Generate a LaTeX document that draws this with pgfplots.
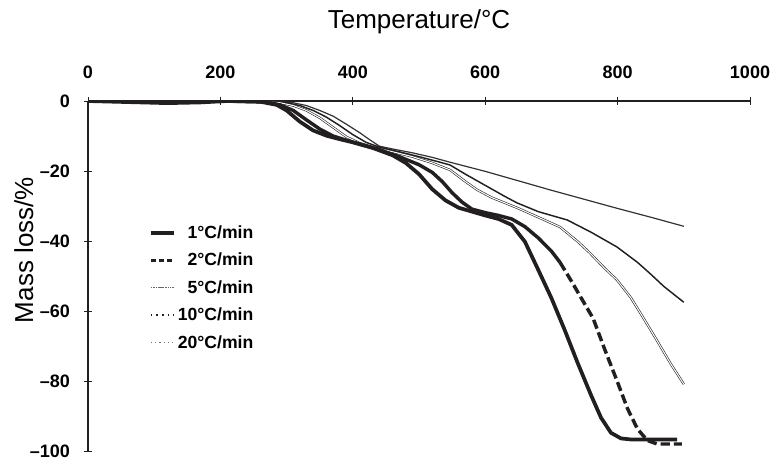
\documentclass[border=0pt]{standalone}
\usepackage{fontspec}
\setmainfont{Liberation Sans}
\usepackage{pgfplots}
\pgfplotsset{compat=1.18}

\definecolor{ink}{HTML}{231F20}

\begin{document}
\begin{tikzpicture}[font=\color{ink}]
\begin{axis}[
    scale only axis,
    width=496.5pt, height=262.5pt,
    xmin=0, xmax=1000, ymin=-100, ymax=0,
    axis x line*=top, axis y line*=left,
    axis line style={draw=ink, line width=1.1pt},
    xtick={0,200,400,600,800,1000},
    xticklabels={0,200,400,600,800,1000},
    ytick={-100,-80,-60,-40,-20,0},
    yticklabels={--100,--80,--60,--40,--20,0},
    tick style={draw=ink, line width=0.6pt},
    tick align=center, major tick length=6pt,
    ticklabel style={font=\fontsize{13.5}{15}\selectfont\bfseries},
    xticklabel style={yshift=10pt},
    yticklabel style={xshift=-7pt},
    xlabel={Temperature/°C},
    xlabel style={at={(axis description cs:0.50,1.226)}, anchor=center,
                  font=\fontsize{19.5}{22}\selectfont},
    ylabel={Mass loss/\%},
    ylabel style={at={(axis description cs:-0.097,0.574)}, anchor=center,
                  font=\fontsize{19.5}{22}\selectfont},
    legend style={draw=none, fill=none, at={(axis description cs:0.086,0.66)},
                  anchor=north west, row sep=5.5pt,
                  font=\fontsize{13.2}{15}\selectfont\bfseries,
                  cells={anchor=east}},
]
% legend samples
\addlegendimage{ink, line width=2.4pt}
\addlegendentry{1°C/min}
\addlegendimage{ink, line width=2.2pt, dash pattern=on 4pt off 2pt}
\addlegendentry{2°C/min}
\addlegendimage{black!60, line width=0.9pt, dash pattern=on 0.8pt off 0.5pt}
\addlegendentry{5°C/min}
\addlegendimage{ink, line width=1.2pt, dash pattern=on 1.2pt off 3pt}
\addlegendentry{10°C/min}
\addlegendimage{black!55, line width=0.9pt, dash pattern=on 1pt off 2.2pt}
\addlegendentry{20°C/min}

% 20 C/min
\addplot[forget plot, black!80, line width=0.9pt] coordinates {
(0,0) (100,-0.3) (200,0.2) (270,0) (310,-0.5) (330,-1.3) (350,-2.7) (370,-4.3)
(390,-6.6) (410,-9) (425,-11) (440,-12.9) (460,-13.7) (490,-14.8) (520,-16.1)
(547,-17.5) (600,-20.1) (650,-22.8) (698,-25.4) (750,-28.1) (800,-30.7)
(850,-33.2) (900,-35.8)};
% 10 C/min
\addplot[forget plot, ink, line width=1.1pt] coordinates {
(0,0) (100,-0.4) (200,0.2) (260,0) (300,-0.5) (320,-1.3) (340,-2.7) (360,-4.6)
(380,-7) (400,-9.6) (420,-11.8) (440,-13.2) (470,-14.5) (500,-15.9) (530,-17.4)
(547,-18.3) (570,-20.9) (600,-24.1) (630,-27.3) (648,-29.1) (680,-31.6)
(724,-34) (760,-37.5) (799,-41.7) (830,-46.1) (849,-49.3) (870,-53) (900,-57.5)};
% 5 C/min
\addplot[forget plot, ink, line width=0.45pt, double=white, double distance=0.8pt] coordinates {
(0,0) (100,-0.3) (200,0.1) (250,0) (290,-0.5) (310,-1.3) (330,-2.7) (350,-4.8)
(370,-7.5) (390,-10.2) (410,-12) (430,-13.2) (460,-14.5) (490,-15.9) (520,-17.7)
(547,-19.7) (570,-23) (588,-25.4) (610,-27.6) (648,-30.5) (680,-33.2) (713,-36)
(740,-40.2) (758,-43.4) (780,-47.7) (799,-51.1) (820,-56.2) (838,-61.7)
(860,-68.6) (880,-75) (900,-80.9)};
% 2 C/min
\addplot[forget plot, ink, line width=2.6pt] coordinates {
(0,0) (210,0) (270,-0.3) (290,-1.1) (310,-2.7) (330,-5.4) (350,-8) (370,-10)
(390,-11.2) (410,-12.3) (440,-13.9) (470,-15.9) (500,-18.2) (520,-20.4)
(535,-23) (550,-26.2) (565,-28.9) (580,-30.9) (600,-31.9) (620,-32.7)
(640,-33.7) (660,-35.9) (680,-39.1) (700,-42.9) (713,-46.1)};
\addplot[forget plot, ink, line width=2.6pt, dash pattern=on 7pt off 3pt] coordinates {
(713,-46.1) (730,-51.4) (750,-57.9) (763,-62.1) (780,-70.7) (800,-80.4)
(815,-87.9) (830,-93.7) (845,-97) (860,-98) (897,-98)};
% 1 C/min
\addplot[forget plot, ink, line width=2.8pt] coordinates {
(0,0) (60,-0.3) (120,-0.6) (170,-0.4) (210,0) (260,-0.2) (285,-1.1) (300,-2.7)
(320,-5.9) (340,-8.4) (360,-9.9) (380,-10.9) (400,-11.8) (430,-13.4)
(460,-15.5) (480,-17.7) (500,-20.9) (520,-25.2) (540,-28.4) (560,-30.5)
(580,-31.6) (600,-32.7) (620,-33.7) (640,-35.4) (660,-40.2) (680,-48.2)
(700,-56.3) (720,-65.4) (740,-75) (760,-84.1) (775,-90.5) (790,-94.8)
(805,-96.4) (820,-96.7) (890,-96.7)};
\end{axis}
\pgfresetboundingbox
\path[use as bounding box] (-66pt,-7.5pt) rectangle (513.75pt,338.25pt);
\end{tikzpicture}
\end{document}
